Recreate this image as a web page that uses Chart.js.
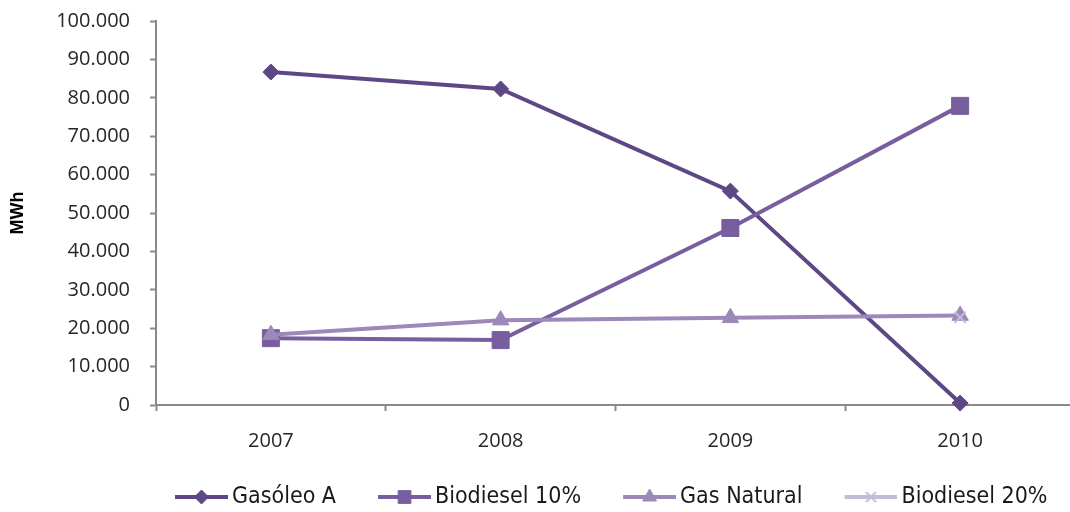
<!DOCTYPE html>
<html><head><meta charset="utf-8">
<script src="https://cdn.jsdelivr.net/npm/chart.js@4"></script>
<style>
html,body{margin:0;padding:0;background:#fff;overflow:hidden}
#wrap{width:1070px;height:512px;overflow:hidden;position:relative}
#c{position:absolute;left:0;top:0}
</style></head><body>
<div id="wrap"><canvas id="c" width="1088" height="512" style="width:1088px;height:512px"></canvas></div>
<script>
// ---- data ----
const categories = ['2007', '2008', '2009', '2010'];
const seriesNames = ['Gasóleo A', 'Biodiesel 10%', 'Gas Natural', 'Biodiesel 20%'];
const gasoleoA = [86700, 82300, 55700, 500];
const biodiesel10 = [17400, 16900, 46100, 77900];
const gasNatural = [18300, 22100, 22700, 23300];
const biodiesel20 = [null, null, null, 22800];
const yMin = 0, yMax = 100000, yStep = 10000;
const yTitle = 'MWh';

// ---- styles ----
const colors = ['#5d4785', '#785d9f', '#9c88b9', '#c4bbd8'];
const pStyles = ['rectRot', 'rect', 'triangle', 'crossRot'];
const pRadius = [8, 12, 9.5, 8];
const legendRadius = [7, 9, 8, 7];

function fmt(v){ return String(v).replace(/\B(?=(\d{3})+(?!\d))/g, '.'); }

// legend symbol: image wider than its box so the line sits close to the text
const LEG_BOX = 74, LEG_IMG = 89, LEG_LINE = 53, LEG_PAD = 13.5;
function legendImg(i){
  const c = document.createElement('canvas');
  c.width = LEG_IMG; c.height = 22;
  const ctx = c.getContext('2d');
  const x0 = LEG_IMG - LEG_LINE;
  ctx.strokeStyle = colors[i]; ctx.lineWidth = 4;
  ctx.beginPath(); ctx.moveTo(x0, 11); ctx.lineTo(LEG_IMG, 11); ctx.stroke();
  ctx.fillStyle = colors[i]; ctx.strokeStyle = colors[i];
  ctx.lineWidth = pStyles[i] === 'crossRot' ? 2 : 1;
  Chart.helpers.drawPoint(ctx, {pointStyle: pStyles[i], radius: legendRadius[i], rotation: 0, borderWidth: ctx.lineWidth}, x0 + LEG_LINE / 2, 11);
  return c;
}
const legendImgs = [0,1,2,3].map(legendImg);

const allSeries = [gasoleoA, biodiesel10, gasNatural, biodiesel20];
const datasets = allSeries.map((d, i) => ({
  label: seriesNames[i],
  data: d,
  borderColor: colors[i],
  backgroundColor: colors[i],
  borderWidth: 4,
  pointStyle: pStyles[i],
  pointRadius: pRadius[i],
  pointHoverRadius: pRadius[i],
  pointBorderWidth: pStyles[i] === 'crossRot' ? 2 : 1,
  pointBorderColor: colors[i],
  pointBackgroundColor: colors[i],
  tension: 0,
  fill: false,
  clip: false,
  order: 4 - i
}));

const legendPlace = {
  id: 'legendPlace',
  afterLayout(chart){
    const lg = chart.legend;
    const p = lg.options.labels.padding;
    const fs = lg.options.labels.font.size;
    const w = lg.right - lg.left, h = lg.bottom - lg.top;
    lg.left = 146.5 - p; lg.right = lg.left + w;
    lg.top = 497 - p - fs / 2; lg.bottom = lg.top + h;
  }
};

const tickFont = {family: "'Open Sans', sans-serif", size: 20};
const axisGray = '#8a8a8a';

new Chart(document.getElementById('c'), {
  type: 'line',
  data: {labels: categories, datasets},
  plugins: [legendPlace],
  options: {
    responsive: false,
    animation: false,
    devicePixelRatio: 1,
    layout: {padding: {top: 0, right: 4, left: 0, bottom: 0}},
    plugins: {
      tooltip: {enabled: false},
      legend: {
        position: 'bottom',
        align: 'start',
        labels: {
          usePointStyle: true,
          pointStyleWidth: LEG_BOX,
          padding: LEG_PAD,
          color: '#1a1a1a',
          font: {family: "'DejaVu Sans Condensed', 'DejaVu Sans', sans-serif", size: 23},
          sort: (a, b) => a.datasetIndex - b.datasetIndex,
          generateLabels(chart){
            const items = Chart.defaults.plugins.legend.labels.generateLabels(chart);
            items.forEach(it => { it.pointStyle = legendImgs[it.datasetIndex]; });
            return items;
          }
        }
      }
    },
    scales: {
      x: {
        offset: true,
        grid: {offset: true, drawOnChartArea: false, drawTicks: true, tickLength: 6, tickColor: axisGray, tickWidth: 2},
        border: {color: axisGray, width: 2},
        ticks: {font: tickFont, color: '#262626', padding: 18, maxRotation: 0},
        afterFit(s){ s.height = Math.max(10, s.chart.height - 405 - s.chart.legend.height); }
      },
      y: {
        min: yMin, max: yMax,
        grid: {drawOnChartArea: false, drawTicks: true, tickLength: 6, tickColor: axisGray, tickWidth: 2},
        border: {color: axisGray, width: 2},
        ticks: {stepSize: yStep, font: tickFont, color: '#262626', padding: 20, callback: v => fmt(v)},
        title: {display: true, text: yTitle, color: '#000', font: {family: "'Liberation Sans', Arial, sans-serif", size: 18, weight: 'bold'}, padding: {top: 7, bottom: 0}},
        afterFit(s){ s.width = 156; s.paddingTop = 21; s.paddingBottom = 12; }
      }
    }
  }
});
</script>
</body></html>
